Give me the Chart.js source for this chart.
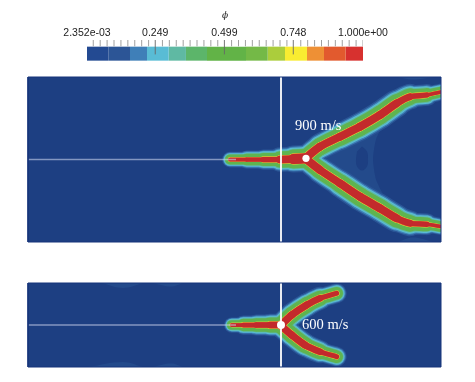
<!DOCTYPE html>
<html>
<head>
<meta charset="utf-8">
<script src="https://cdn.jsdelivr.net/npm/chart.js@4"></script>
<style>
  body { margin: 0; background: #fff; }
  canvas { position: absolute; }
  #colorbar { left: 50px; top: 0; }
  #topField { left: 26px; top: 75px; filter: blur(0.5px); }
  #bottomField { left: 26px; top: 281px; filter: blur(0.5px); }
</style>
</head>
<body>
<canvas id="colorbar" width="350" height="64"></canvas>
<canvas id="topField" width="417" height="169"></canvas>
<canvas id="bottomField" width="417" height="88"></canvas>
<script>
// colour bar
const barEdges = [0.00235, 0.0794, 0.1578, 0.2192, 0.2976, 0.36, 0.4361, 0.5771, 0.6555, 0.718, 0.7975, 0.859, 0.9374, 1];
const barColors = ['#234a92', '#2c5596', '#3f7fb8', '#59bcd5', '#5fb9a3', '#5cb56a', '#62b347', '#74b947', '#abcd3c', '#f9ec31', '#ee9035', '#e25a2e', '#d7312f'];
const labelValues = [0.002352, 0.249, 0.499, 0.748, 1];
const labelTexts = ['2.352e-03', '0.249', '0.499', '0.748', '1.000e+00'];
const minorTicks = [0.025, 0.05, 0.075, 0.1, 0.125, 0.15, 0.175, 0.2, 0.225, 0.275, 0.3, 0.325, 0.35, 0.375, 0.4, 0.425, 0.45, 0.475,
  0.525, 0.55, 0.575, 0.6, 0.625, 0.65, 0.675, 0.7, 0.725, 0.775, 0.8, 0.825, 0.85, 0.875, 0.9, 0.925, 0.95, 0.975, 1];
const majorTicks = [0.249, 0.499, 0.748];

// contour bands, outermost first: colour and share of the local spread
const bandColors = ['#2a5596', '#3f7fb8', '#59bcd5', '#5fb9a3', '#5fb44f', '#abcd3c', '#e9d838', '#dd6a30', '#c32a2c'];
const bandLevels = [1, 0.86, 0.74, 0.62, 0.52, 0.07, 0.05, 0.025, 0];
const fieldColor = '#1d3f82';

// 900 m/s crack
const topStemX = [202, 218.7, 235.3, 252, 265.3, 278];
const topStemY = [0, 0, 0, 0, 0.5, 1.2];
const topStemCore = [3.5, 4, 4.5, 6, 9, 11];
const topStemSpread = [5, 7, 7, 8, 9, 8];
const topUpX = [278, 292, 312, 332, 352, 368.7, 382, 398.7, 414];
const topUpY = [1.8, 12.8, 22.8, 32.8, 44.5, 56.2, 62.8, 64.5, 67.8];
const topDownX = [278, 292, 312, 332, 352, 368.7, 382, 398.7, 414];
const topDownY = [0.5, -10.5, -23.8, -37.2, -48.8, -58.8, -63.8, -64.8, -67.2];
const topArmCore = [8.5, 7.5, 7.5, 8, 8, 7.5, 6, 4.5, 2.5];
const topArmSpread = [8, 9, 10, 10, 10, 10, 9, 7.5, 6];
const topWakeX = [285, 320, 370, 358, 348, 345, 348, 358, 370, 320];
const topWakeY = [0, 24, 55, 40, 20, 0, -20, -40, -55, -24];
const topBlobX = [334, 339, 340, 339, 334, 329, 328, 329];
const topBlobY = [13, 8, 0, -7, -11, -7, 0, 8];
const topSpeck1X = [370, 385, 405];
const topSpeck1Y = [82.5, 80, 82.5];
const topSpeck2X = [370, 385, 405];
const topSpeck2Y = [-82.5, -78, -82.5];
const topTraceX = [0, 208];
const topCut = 253;
const topTipX = 278;
const topTipY = 1.2;

// 600 m/s crack
const bottomStemX = [203.7, 215.3, 228.3, 242, 253];
const bottomStemY = [0, 0, 0, 0, 0];
const bottomStemCore = [3, 4.5, 5, 6, 7];
const bottomStemSpread = [4.5, 7, 7.5, 8, 8];
const bottomUpX = [253, 263.7, 278.7, 292, 308.7];
const bottomUpY = [0, 10, 20, 26.7, 31.7];
const bottomDownX = [253, 263.7, 277, 292, 308.7];
const bottomDownY = [-0.7, -10, -20, -26.7, -31.7];
const bottomArmCore = [7.5, 7, 7, 6, 3.5];
const bottomArmSpread = [8, 8.5, 8.5, 8, 7];
const bottomArcX = [[74, 95, 115], [125, 143, 155], [60, 95, 115], [125, 143, 155]];
const bottomArcY = [[42, 37, 42], [42, 38.5, 42], [-42, -37, -42], [-42, -38.5, -42]];
const bottomTraceX = [0, 208];
const bottomCut = 253;
const bottomTipX = 253;
const bottomTipY = 0;

const toPoints = (xs, ys) => xs.map((x, i) => ({ x, y: ys[i] }));

function strip(points, color, width, extra) {
  return Object.assign({
    type: 'line', data: points, borderColor: color, borderWidth: width,
    pointRadius: 0, tension: 0, fill: false, borderCapStyle: 'butt'
  }, extra);
}

function patch(points, color, tension) {
  return {
    type: 'line', data: points, borderWidth: 0, borderColor: color, backgroundColor: color,
    pointRadius: 0, tension: tension, fill: 'shape'
  };
}

// one line per band and arm; the stroke width follows the crack width point by point
function crackLayers(arms) {
  const layers = [];
  bandColors.forEach((color, b) => {
    arms.forEach(arm => {
      const widthAt = i => arm.core[i] + 2 * bandLevels[b] * arm.spread[i];
      layers.push({
        type: 'line', data: toPoints(arm.x, arm.y), borderColor: color, borderWidth: widthAt(0),
        pointRadius: 0, tension: 0.25, fill: false,
        borderCapStyle: 'round', borderJoinStyle: 'round',
        segment: { borderWidth: ctx => (widthAt(ctx.p0DataIndex) + widthAt(ctx.p1DataIndex)) / 2 }
      });
    });
  });
  return layers;
}

const textLabels = {
  id: 'textLabels',
  afterDatasetsDraw(chart, args, opts) {
    const { ctx, scales } = chart;
    ctx.save();
    ctx.font = '14.5px "Liberation Serif"';
    ctx.fillStyle = '#fff';
    ctx.textAlign = 'left';
    ctx.textBaseline = 'middle';
    ctx.fillText(opts.text, scales.x.getPixelForValue(opts.x), scales.y.getPixelForValue(opts.y));
    ctx.restore();
  }
};

function drawField(id, yLimit, layers, label) {
  const xMin = 0, xMax = 413;
  const box = [{ x: xMin, y: -yLimit }, { x: xMax, y: -yLimit }, { x: xMax, y: yLimit }, { x: xMin, y: yLimit }, { x: xMin, y: -yLimit }];
  const all = [patch(box, fieldColor, 0), ...layers, strip(box, '#17357a', 1, { clip: false })];
  new Chart(document.getElementById(id), {
    data: { datasets: all.reverse() },
    plugins: [textLabels],
    options: {
      responsive: false, animation: false,
      layout: { padding: 2, autoPadding: false },
      scales: {
        x: { type: 'linear', min: xMin, max: xMax, display: false },
        y: { type: 'linear', min: -yLimit, max: yLimit, display: false }
      },
      plugins: { legend: { display: false }, tooltip: { enabled: false }, textLabels: label }
    }
  });
}

// colour bar: y 0..1 is the bar, the ticks stand above it
const barLayers = barColors.map((c, i) => strip([{ x: barEdges[i], y: 0.5 }, { x: barEdges[i + 1], y: 0.5 }], c, 14));
const tickLayers = [
  ...minorTicks.map(v => strip([{ x: v, y: 1 }, { x: v, y: 1.43 }], '#888', 0.8)),
  ...majorTicks.map(v => strip([{ x: v, y: 0.45 }, { x: v, y: 1.43 }], '#666', 0.9))
];

new Chart(document.getElementById('colorbar'), {
  data: { datasets: [...tickLayers, ...barLayers] },
  options: {
    responsive: false, animation: false,
    layout: { padding: { left: 37, right: 37, bottom: 3, top: 0 } },
    scales: {
      x: {
        type: 'linear', position: 'top', min: 0.002352, max: 1,
        grid: { display: false, drawTicks: false }, border: { display: false },
        afterBuildTicks: s => { s.ticks = labelValues.map(value => ({ value })); },
        afterFit: s => { s.height = 40; },
        ticks: {
          autoSkip: false, maxRotation: 0, padding: 1, color: '#222',
          font: { family: '"Liberation Sans"', size: 10.5 },
          callback: v => labelTexts[labelValues.indexOf(v)]
        },
        title: {
          display: true, text: 'ϕ', color: '#222', padding: { top: 10, bottom: 6 },
          font: { family: '"DejaVu Serif"', style: 'italic', size: 9 }
        }
      },
      y: { type: 'linear', min: 0, max: 1.43, display: false }
    },
    plugins: { legend: { display: false }, tooltip: { enabled: false } }
  }
});

drawField('topField', 82.5, [
  patch(toPoints(topWakeX, topWakeY), '#234a8b', 0.2),
  patch(toPoints(topBlobX, topBlobY), fieldColor, 0.4),
  patch(toPoints(topSpeck1X, topSpeck1Y), '#234a8b', 0.4),
  patch(toPoints(topSpeck2X, topSpeck2Y), '#234a8b', 0.4),
  ...crackLayers([
    { x: topStemX, y: topStemY, core: topStemCore, spread: topStemSpread },
    { x: topUpX, y: topUpY, core: topArmCore, spread: topArmSpread },
    { x: topDownX, y: topDownY, core: topArmCore, spread: topArmSpread }
  ]),
  strip(toPoints(topTraceX, [0, 0]), 'rgba(200,210,235,0.6)', 1.5),
  strip(toPoints([topCut, topCut], [-82.5, 82.5]), '#fff', 1.8),
  { type: 'scatter', data: [{ x: topTipX, y: topTipY }], pointRadius: 3.6, pointBackgroundColor: '#fff', pointBorderWidth: 0 }
], { text: '900 m/s', x: 267, y: 33 });

drawField('bottomField', 42, [
  ...bottomArcX.map((xs, i) => patch(toPoints(xs, bottomArcY[i]), '#234a8b', 0.4)),
  ...crackLayers([
    { x: bottomStemX, y: bottomStemY, core: bottomStemCore, spread: bottomStemSpread },
    { x: bottomUpX, y: bottomUpY, core: bottomArmCore, spread: bottomArmSpread },
    { x: bottomDownX, y: bottomDownY, core: bottomArmCore, spread: bottomArmSpread }
  ]),
  strip(toPoints(bottomTraceX, [0, 0]), 'rgba(200,210,235,0.6)', 1.5),
  strip(toPoints([bottomCut, bottomCut], [-42, 42]), '#fff', 1.8),
  { type: 'scatter', data: [{ x: bottomTipX, y: bottomTipY }], pointRadius: 4, pointBackgroundColor: '#fff', pointBorderWidth: 0 }
], { text: '600 m/s', x: 274, y: 0 });
</script>
</body>
</html>
